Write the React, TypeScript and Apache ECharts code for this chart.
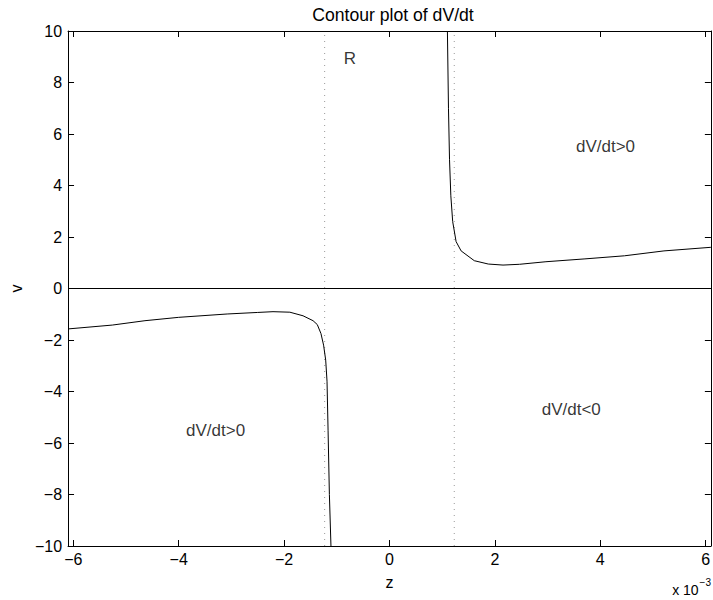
import React, { useEffect, useRef } from "react";
import * as echarts from "echarts";

// values in units of 1e-3 for z
const xTicks = [-6, -4, -2, 0, 2, 4, 6];
const yTicks = [-10, -8, -6, -4, -2, 0, 2, 4, 6, 8, 10];
const xRange = [-6.1, 6.1];
const yRange = [-10, 10];

const lowerBranch: [number, number][] = [
  [-6.1, -1.57], [-5.26, -1.42], [-4.64, -1.25], [-4.0, -1.12], [-3.08, -0.99],
  [-2.5, -0.93], [-2.21, -0.9], [-1.89, -0.92], [-1.64, -1.06], [-1.45, -1.25],
  [-1.37, -1.4], [-1.3, -1.75], [-1.25, -2.2], [-1.21, -2.78], [-1.185, -3.6],
  [-1.165, -5.5], [-1.14, -8.0], [-1.11, -10],
];
const upperBranch: [number, number][] = [
  [1.1, 10], [1.12, 7], [1.14, 5], [1.165, 3.6], [1.2, 2.6], [1.265, 1.82], [1.36, 1.46],
  [1.61, 1.08], [1.875, 0.95], [2.155, 0.91], [2.47, 0.94], [2.97, 1.04],
  [3.71, 1.15], [4.46, 1.27], [5.21, 1.46], [6.1, 1.6],
];
const boundaries = [-1.23, 1.23];
const annotations: { text: string; x: number; y: number }[] = [
  { text: "R", x: -0.75, y: 8.95 },
  { text: "dV/dt>0", x: 4.1, y: 5.5 },
  { text: "dV/dt>0", x: -3.3, y: -5.5 },
  { text: "dV/dt<0", x: 3.45, y: -4.7 },
];
const titleText = "Contour plot of dV/dt";

const FONT = "'Liberation Sans', Arial, Helvetica, sans-serif";
const FS = 16;
const FS_TEXT = 17;
const FS_TITLE = 17.6;

export default function App() {
  const ref = useRef<HTMLDivElement>(null);
  useEffect(() => {
    if (!ref.current) return;
    const chart = echarts.init(ref.current, null, { renderer: "svg" });
    const minus = (v: number) => String(v).replace("-", "\u2212");
    const axisLineStyle = { color: "#000", width: 1 };
    const baseX = {
      type: "value" as const,
      min: xRange[0],
      max: xRange[1],
      splitLine: { show: false },
      axisLine: { show: true, onZero: false, lineStyle: axisLineStyle },
      axisTick: { show: true, inside: true, length: 6, customValues: xTicks, lineStyle: axisLineStyle },
    };
    const baseY = {
      type: "value" as const,
      min: yRange[0],
      max: yRange[1],
      splitLine: { show: false },
      axisLine: { show: true, onZero: false, lineStyle: axisLineStyle },
      axisTick: { show: true, inside: true, length: 6, customValues: yTicks, lineStyle: axisLineStyle },
    };
    chart.setOption({
      animation: false,
      backgroundColor: "#fff",
      textStyle: { fontFamily: FONT },
      title: {
        text: titleText,
        left: 388,
        top: 1,
        textAlign: "center",
        textStyle: { fontFamily: FONT, fontSize: FS_TITLE, fontWeight: "normal", color: "#000" },
      },
      grid: { left: 62, top: 31, width: 652, height: 515, containLabel: false },
      xAxis: [
        {
          ...baseX,
          position: "bottom",
          name: "z",
          nameLocation: "middle",
          nameGap: 28,
          nameTextStyle: { fontFamily: FONT, fontSize: FS, color: "#000" },
          axisLabel: {
            customValues: xTicks,
            formatter: (v: number) => minus(v),
            margin: 5,
            color: "#000",
            fontFamily: FONT,
            fontSize: FS,
          },
        },
        { ...baseX, position: "top", axisLabel: { show: false } },
      ],
      yAxis: [
        {
          ...baseY,
          position: "left",
          name: "v",
          nameLocation: "middle",
          nameGap: 44,
          nameTextStyle: { fontFamily: FONT, fontSize: FS, color: "#000" },
          axisLabel: {
            customValues: yTicks,
            formatter: (v: number) => minus(v),
            margin: 6,
            color: "#000",
            fontFamily: FONT,
            fontSize: FS,
          },
        },
        { ...baseY, position: "right", axisLabel: { show: false } },
      ],
      graphic: [
        {
          type: "text",
          right: 2,
          top: 577,
          style: {
            text: "{b|x 10}{s|\u22123}",
            rich: {
              b: { fontFamily: FONT, fontSize: 14, fill: "#000", verticalAlign: "bottom" },
              s: { fontFamily: FONT, fontSize: 10, fill: "#000", padding: [0, 0, 10, 1] },
            },
          },
        },
      ],
      series: [
        {
          type: "line",
          data: [[xRange[0], 0], [xRange[1], 0]],
          symbol: "none",
          lineStyle: { color: "#000", width: 1 },
          silent: true,
        },
        ...boundaries.map((b) => ({
          type: "line",
          data: [[b, yRange[0]], [b, yRange[1]]],
          symbol: "none",
          lineStyle: { color: "#999", width: 1, type: [1, 5] },
          silent: true,
        })),
        {
          type: "line",
          data: lowerBranch,
          symbol: "none",
          lineStyle: { color: "#000", width: 1 },
        },
        {
          type: "line",
          data: upperBranch,
          symbol: "none",
          lineStyle: { color: "#000", width: 1 },
        },
        {
          type: "scatter",
          data: annotations.map((a) => ({ value: [a.x, a.y], name: a.text })),
          symbolSize: 0,
          label: {
            show: true,
            position: "inside",
            formatter: (p: any) => p.name,
            color: "#000",
            fontFamily: FONT,
            fontSize: FS_TEXT,
          },
          silent: true,
        },
      ],
    });
    return () => chart.dispose();
  }, []);
  return (
    <div
      ref={ref}
      style={{ position: "fixed", left: 0, top: 0, width: 713, height: 600 }}
    />
  );
}
